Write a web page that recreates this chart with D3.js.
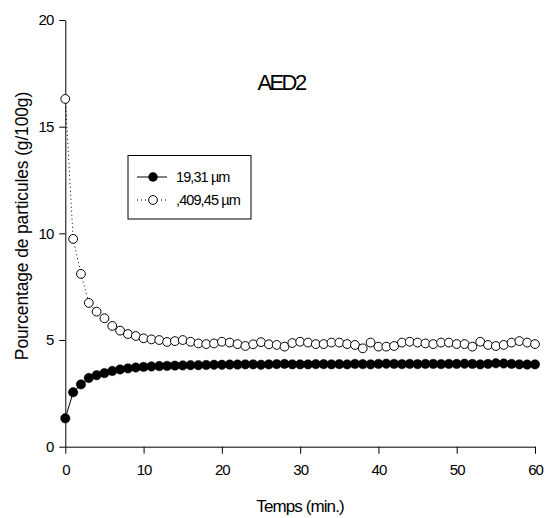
<!DOCTYPE html>
<html><head><meta charset="utf-8">
<script src="https://cdn.jsdelivr.net/npm/d3@7"></script>
<style>body{margin:0;background:#fff;}text{font-family:"Liberation Sans",Arial,sans-serif;}</style>
</head><body><svg id="c" width="546" height="518"></svg>
<script>
const times = d3.range(0, 61);
const small = [1.33,2.55,2.92,3.22,3.35,3.45,3.55,3.62,3.67,3.71,3.74,3.76,3.78,3.79,3.80,3.81,3.82,3.82,3.83,3.84,3.84,3.85,3.85,3.86,3.86,3.84,3.86,3.87,3.88,3.86,3.86,3.86,3.87,3.87,3.86,3.87,3.86,3.88,3.87,3.86,3.88,3.89,3.88,3.87,3.88,3.87,3.88,3.88,3.87,3.88,3.88,3.89,3.88,3.86,3.88,3.91,3.90,3.88,3.86,3.85,3.86];
const large = [16.3,9.74,8.1,6.74,6.33,6.02,5.66,5.44,5.28,5.19,5.08,5.03,5.0,4.91,4.95,5.0,4.92,4.84,4.81,4.84,4.92,4.88,4.81,4.72,4.80,4.90,4.80,4.77,4.69,4.86,4.92,4.88,4.81,4.81,4.88,4.88,4.81,4.77,4.61,4.88,4.69,4.69,4.72,4.88,4.92,4.88,4.84,4.81,4.88,4.88,4.81,4.81,4.69,4.92,4.77,4.72,4.77,4.88,4.95,4.88,4.81];
const seriesNames = ["19,31 µm", ",409,45 µm"];
const xTicks = [0,10,20,30,40,50,60];
const yTicks = [0,5,10,15,20];
const title = "AED2";
const xLabel = "Temps (min.)";
const yLabel = "Pourcentage de particules (g/100g)";

const svg = d3.select("#c");
const x = d3.scaleLinear().domain([0,60]).range([65.3,535]);
const y = d3.scaleLinear().domain([0,20]).range([446.7,20]);

const xa = svg.append("g").attr("transform","translate(0,446.7)")
  .call(d3.axisBottom(x).tickValues(xTicks).tickSize(7).tickSizeOuter(0).tickPadding(11));
const ya = svg.append("g").attr("transform","translate(65.3,0)")
  .call(d3.axisLeft(y).tickValues(yTicks).tickSize(6).tickSizeOuter(0).tickPadding(6));
[xa,ya].forEach(a=>{
  a.select(".domain").attr("stroke","#000").attr("stroke-width",1);
  a.selectAll(".tick line").attr("stroke","#000");
  a.selectAll("text").attr("font-family","Liberation Sans, Arial, sans-serif").attr("font-size","15px").attr("fill","#000").attr("letter-spacing","-1px");
});

svg.append("text").attr("x",300).attr("y",512).attr("text-anchor","middle").attr("font-size","17px").attr("letter-spacing","-0.9px").text(xLabel);
svg.append("text").attr("transform","translate(28,226) rotate(-90)").attr("text-anchor","middle").attr("font-size","17.5px").attr("letter-spacing","-0.15px").text(yLabel);
svg.append("text").attr("x",281).attr("y",90).attr("text-anchor","middle").attr("font-size","22px").attr("letter-spacing","-2.6px").text(title);

const line = d3.line().x((d,i)=>x(times[i])).y(d=>y(d));
svg.append("path").datum(small).attr("d",line).attr("fill","none").attr("stroke","#000").attr("stroke-width",1);
svg.append("path").datum(large).attr("d",line).attr("fill","none").attr("stroke","#000").attr("stroke-width",1).attr("stroke-dasharray","1,3");

svg.append("g").selectAll("circle").data(small).join("circle")
  .attr("cx",(d,i)=>x(times[i])).attr("cy",d=>y(d)).attr("r",4.7).attr("fill","#000").attr("stroke","#000").attr("stroke-width",0.5);
svg.append("g").selectAll("circle").data(large).join("circle")
  .attr("cx",(d,i)=>x(times[i])).attr("cy",d=>y(d)).attr("r",4.4).attr("fill","#fff").attr("stroke","#000").attr("stroke-width",1);

// legend
const lg = svg.append("g");
lg.append("rect").attr("x",128).attr("y",155.5).attr("width",123).attr("height",63.5).attr("fill","#fff").attr("stroke","#000").attr("stroke-width",1);
const rows = [177,200];
lg.append("line").attr("x1",137).attr("x2",167).attr("y1",rows[0]).attr("y2",rows[0]).attr("stroke","#000");
lg.append("circle").attr("cx",153).attr("cy",rows[0]).attr("r",4.7).attr("fill","#000");
lg.append("line").attr("x1",137).attr("x2",167).attr("y1",rows[1]).attr("y2",rows[1]).attr("stroke","#000").attr("stroke-dasharray","1,3");
lg.append("circle").attr("cx",153).attr("cy",rows[1]).attr("r",4.4).attr("fill","#fff").attr("stroke","#000");
seriesNames.forEach((s,i)=>{
  lg.append("text").attr("x",176).attr("y",rows[i]+5).attr("font-size","14.5px").attr("letter-spacing","-0.9px").text(s);
});
</script></body></html>
